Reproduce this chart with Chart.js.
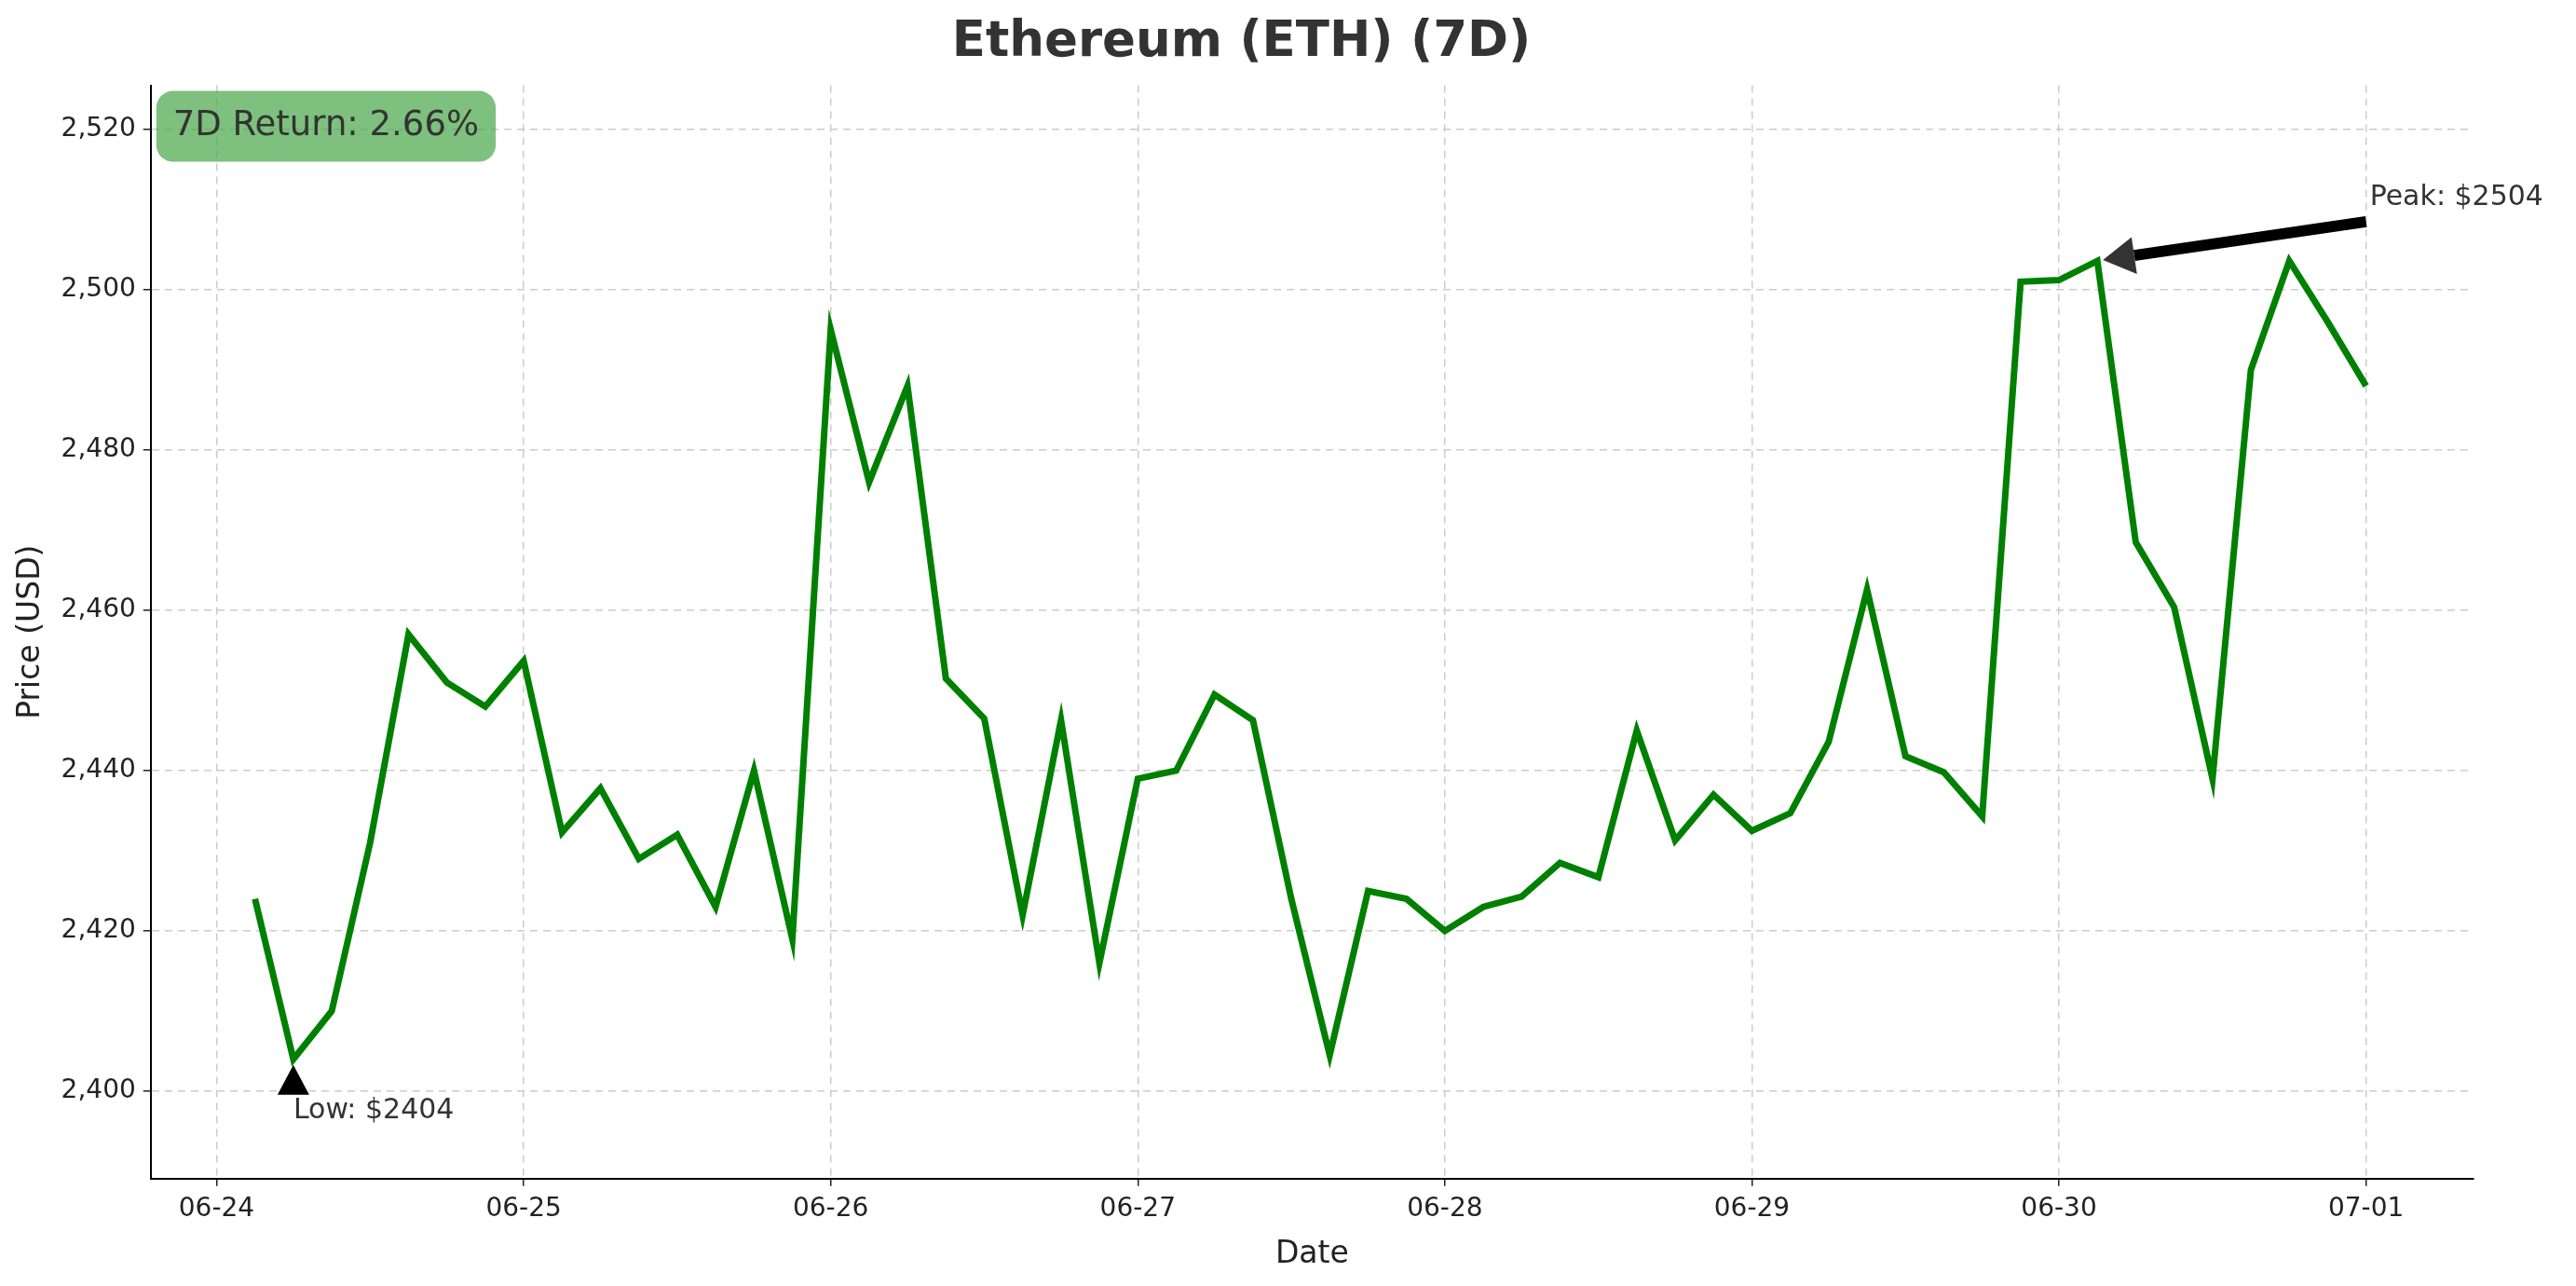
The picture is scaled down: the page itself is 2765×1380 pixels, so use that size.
<!DOCTYPE html>
<html><head><meta charset="utf-8">
<script src="https://cdn.jsdelivr.net/npm/chart.js@4"></script>
<style>html,body{margin:0;padding:0;background:#fff}#w{width:2765px;height:1380px}</style>
</head><body><div id="w"><canvas id="c"></canvas></div>
<script>
const hours = [3,6,9,12,15,18,21,24,27,30,33,36,39,42,45,48,51,54,57,60,63,66,69,72,75,78,81,84,87,90,93,96,99,102,105,108,111,114,117,120,123,126,129,132,135,138,141,144,147,150,153,156,159,162,165,168];
const prices = [2424,2404,2410,2431,2457,2451,2448,2453.7,2432.3,2437.8,2429,2432,2423,2440,2419,2495,2476,2488,2451.5,2446.5,2422,2446.3,2416,2439,2440,2449.5,2446.3,2424,2404.5,2425,2424,2420,2423,2424.3,2428.5,2426.7,2445,2431.3,2437,2432.5,2434.7,2443.6,2462.6,2441.8,2439.8,2434.3,2501,2501.2,2503.6,2468.5,2460.4,2439,2490,2503.6,2496,2488];
const dayLabels = ['06-24','06-25','06-26','06-27','06-28','06-29','06-30','07-01'];
const yTicks = [2400,2420,2440,2460,2480,2500,2520];
const F = 'DejaVu Sans';
const ann = {
  id:'ann',
  afterDraw(ch){
    const c=ch.ctx, x=ch.scales.x, y=ch.scales.y;
    let lo=0, hi=0;
    prices.forEach((p,i)=>{ if(p<prices[lo])lo=i; if(p>prices[hi])hi=i; });
    c.save();
    // low marker: triangle
    const lx=x.getPixelForValue(hours[lo]), ly=y.getPixelForValue(prices[lo]);
    c.fillStyle='#000';
    c.beginPath(); c.moveTo(lx,ly+6); c.lineTo(lx-17,ly+38); c.lineTo(lx+17,ly+38); c.closePath(); c.fill();
    c.fillStyle='#333'; c.font='30px '+F; c.textBaseline='middle'; c.textAlign='left';
    c.fillText('Low: $'+Math.round(prices[lo]), lx, ly+56);
    // peak arrow
    const px=x.getPixelForValue(hours[hi]), py=y.getPixelForValue(prices[hi]);
    const tx=x.getPixelForValue(168), ty=y.getPixelForValue(2508.5);
    c.strokeStyle='#000'; c.lineWidth=12;
    const ang=Math.atan2(py-ty,px-tx);
    const hx=px-Math.cos(ang)*6, hy=py-Math.sin(ang)*6;
    const bx=hx-Math.cos(ang)*34, by=hy-Math.sin(ang)*34;
    c.beginPath(); c.moveTo(tx,ty); c.lineTo(bx,by); c.stroke();
    c.beginPath(); c.moveTo(hx,hy);
    c.lineTo(bx+Math.sin(ang)*20, by-Math.cos(ang)*20);
    c.lineTo(bx-Math.sin(ang)*20, by+Math.cos(ang)*20); c.closePath(); c.fill();
    c.fillStyle='#333';
    c.fillText('Peak: $'+Math.round(prices[hi]), tx+4, y.getPixelForValue(2511.5));
    // return box
    const ret=(prices[prices.length-1]/prices[0]-1)*100;
    const txt='7D Return: '+(2.66).toFixed(2)+'%';
    c.font='37px '+F;
    const w=c.measureText(txt).width;
    const bx0=ch.chartArea.left+6, by0=ch.chartArea.top+6;
    c.fillStyle='rgba(76,168,76,0.72)';
    c.beginPath(); c.roundRect(bx0,by0,w+36,76,18); c.fill();
    c.fillStyle='#333'; c.fillText(txt,bx0+18,by0+38);
    c.restore();
  }
};
new Chart(document.getElementById('c'),{
  type:'line',
  data:{datasets:[{data:hours.map((h,i)=>({x:h,y:prices[i]})),borderColor:'#008000',borderWidth:7,pointRadius:0,tension:0,fill:false}]},
  plugins:[ann],
  options:{
    responsive:true,maintainAspectRatio:false,animation:false,devicePixelRatio:1,
    layout:{padding:{left:10,right:110,top:0,bottom:10}},
    plugins:{legend:{display:false},tooltip:{enabled:false},
      title:{display:true,text:'Ethereum (ETH) (7D)',color:'#333',font:{family:F,size:53,weight:'bold'},padding:{top:14,bottom:14}}},
    scales:{
      x:{type:'linear',min:-5.15,max:176.4,
        afterBuildTicks(a){a.ticks=dayLabels.map((_,i)=>({value:i*24}));},
        ticks:{callback:(v)=>dayLabels[Math.round(v/24)],color:'#222',font:{family:F,size:28},padding:8,maxRotation:0},
        grid:{color:'#ccc',lineWidth:1.5,drawTicks:true,tickColor:'#222',tickLength:8,tickBorderDash:[0,0]},
        border:{color:'#000',width:2,dash:[8,6]},
        title:{display:true,text:'Date',color:'#222',font:{family:F,size:33}}},
      y:{min:2389.1,max:2525.5,
        afterBuildTicks(a){a.ticks=yTicks.map(v=>({value:v}));},
        ticks:{color:'#222',font:{family:F,size:28},padding:8},
        grid:{color:'#ccc',lineWidth:1.5,tickColor:'#222',tickLength:8},
        border:{color:'#000',width:2,dash:[8,6]},
        title:{display:true,text:'Price (USD)',color:'#222',font:{family:F,size:33}}}
    }
  }
});
</script></body></html>
